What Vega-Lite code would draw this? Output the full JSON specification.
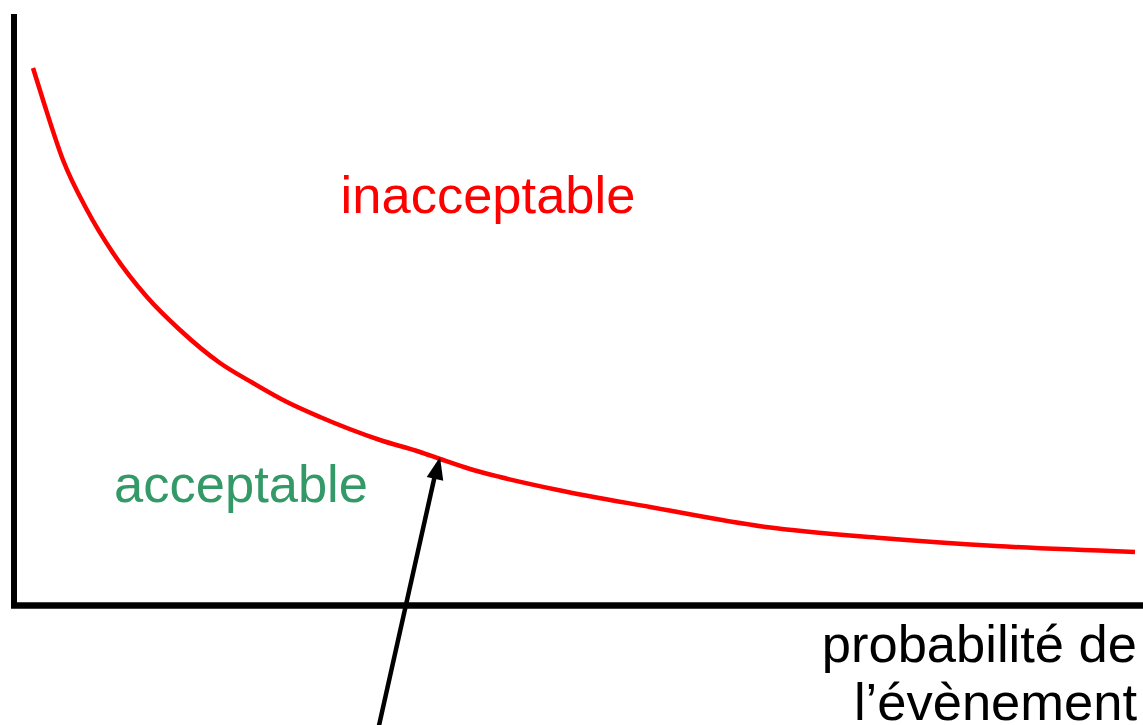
{
  "$schema": "https://vega.github.io/schema/vega-lite/v6.json",
  "width": 1143,
  "height": 725,
  "autosize": {"type": "none"},
  "padding": 0,
  "config": {"view": {"stroke": null}, "font": "Liberation Sans"},
  "datasets": {
    "courbe": [
      {"probabilite": 1.9, "gravite": 53.7},
      {"probabilite": 2.9, "gravite": 50.5},
      {"probabilite": 4.9, "gravite": 44.5},
      {"probabilite": 7.3, "gravite": 39.5},
      {"probabilite": 9.9, "gravite": 35.2},
      {"probabilite": 13.3, "gravite": 30.8},
      {"probabilite": 16.6, "gravite": 27.5},
      {"probabilite": 20.6, "gravite": 24.2},
      {"probabilite": 23.9, "gravite": 22.2},
      {"probabilite": 27.3, "gravite": 20.3},
      {"probabilite": 30.6, "gravite": 18.8},
      {"probabilite": 36.6, "gravite": 16.5},
      {"probabilite": 40.6, "gravite": 15.3},
      {"probabilite": 42.6, "gravite": 14.6},
      {"probabilite": 45.6, "gravite": 13.6},
      {"probabilite": 48.6, "gravite": 12.8},
      {"probabilite": 54.4, "gravite": 11.5},
      {"probabilite": 63.6, "gravite": 9.8},
      {"probabilite": 75.2, "gravite": 7.8},
      {"probabilite": 86.7, "gravite": 6.7},
      {"probabilite": 98.2, "gravite": 5.9},
      {"probabilite": 112.1, "gravite": 5.3}
    ],
    "zones": [
      {"label": "inacceptable", "probabilite": 47.4, "gravite": 39.2},
      {"label": "acceptable", "probabilite": 22.7, "gravite": 10.3}
    ],
    "titre": [
      {"label": "probabilité de", "probabilite": 112.3, "gravite": -5.7},
      {"label": "l’évènement", "probabilite": 112.3, "gravite": -11.5}
    ]
  },
  "layer": [
    {
      "data": {"values": [{}]},
      "mark": {"type": "rule", "color": "black", "strokeWidth": 6, "strokeCap": "butt"},
      "encoding": {
        "x": {"datum": 0, "type": "quantitative", "scale": {"domain": [-1.4, 112.9], "nice": false, "zero": false}, "axis": null},
        "y": {"datum": -0.3, "type": "quantitative", "scale": {"domain": [-12, 60.5], "nice": false, "zero": false}, "axis": null},
        "y2": {"datum": 59.1}
      }
    },
    {
      "data": {"values": [{}]},
      "mark": {"type": "rule", "color": "black", "strokeWidth": 6.5, "strokeCap": "butt"},
      "encoding": {
        "x": {"datum": -0.3, "type": "quantitative", "scale": {"domain": [-1.4, 112.9], "nice": false, "zero": false}, "axis": null},
        "x2": {"datum": 112.9},
        "y": {"datum": -0.05, "type": "quantitative", "scale": {"domain": [-12, 60.5], "nice": false, "zero": false}, "axis": null}
      }
    },
    {
      "data": {"name": "courbe"},
      "mark": {"type": "line", "color": "#ff0000", "strokeWidth": 4.5, "interpolate": "monotone"},
      "encoding": {
        "x": {"field": "probabilite", "type": "quantitative", "scale": {"domain": [-1.4, 112.9], "nice": false, "zero": false}, "axis": null},
        "y": {"field": "gravite", "type": "quantitative", "scale": {"domain": [-12, 60.5], "nice": false, "zero": false}, "axis": null}
      }
    },
    {
      "data": {"values": [{}]},
      "mark": {"type": "rule", "color": "black", "strokeWidth": 4.5, "strokeCap": "butt"},
      "encoding": {
        "x": {"datum": 36.4, "type": "quantitative", "scale": {"domain": [-1.4, 112.9], "nice": false, "zero": false}, "axis": null},
        "y": {"datum": -12.5, "type": "quantitative", "scale": {"domain": [-12, 60.5], "nice": false, "zero": false}, "axis": null},
        "x2": {"datum": 42.1},
        "y2": {"datum": 13.0}
      }
    },
    {
      "data": {"values": [{}]},
      "mark": {"type": "point", "shape": "M0,0L-0.38,1L0.38,1Z", "size": 2000, "angle": 13, "filled": true, "color": "black", "opacity": 1, "strokeWidth": 0},
      "encoding": {
        "x": {"datum": 42.6, "type": "quantitative", "scale": {"domain": [-1.4, 112.9], "nice": false, "zero": false}, "axis": null},
        "y": {"datum": 14.8, "type": "quantitative", "scale": {"domain": [-12, 60.5], "nice": false, "zero": false}, "axis": null}
      }
    },
    {
      "data": {"name": "zones"},
      "mark": {"type": "text", "fontSize": 52.5, "align": "center", "baseline": "alphabetic"},
      "encoding": {
        "x": {"field": "probabilite", "type": "quantitative", "scale": {"domain": [-1.4, 112.9], "nice": false, "zero": false}, "axis": null},
        "y": {"field": "gravite", "type": "quantitative", "scale": {"domain": [-12, 60.5], "nice": false, "zero": false}, "axis": null},
        "text": {"field": "label"},
        "color": {"field": "label", "type": "nominal", "scale": {"domain": ["inacceptable", "acceptable"], "range": ["#ff0000", "#339966"]}, "legend": null}
      }
    },
    {
      "data": {"name": "titre"},
      "mark": {"type": "text", "fontSize": 52.5, "align": "right", "baseline": "alphabetic", "color": "black"},
      "encoding": {
        "x": {"field": "probabilite", "type": "quantitative", "scale": {"domain": [-1.4, 112.9], "nice": false, "zero": false}, "axis": null},
        "y": {"field": "gravite", "type": "quantitative", "scale": {"domain": [-12, 60.5], "nice": false, "zero": false}, "axis": null},
        "text": {"field": "label"}
      }
    }
  ]
}
